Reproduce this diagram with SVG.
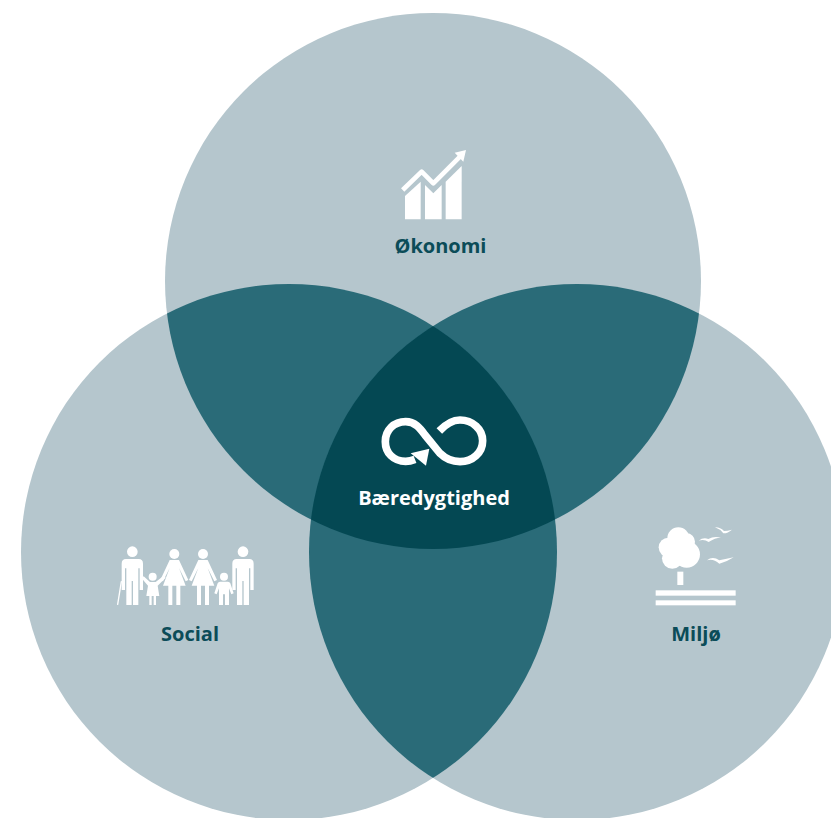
<svg xmlns="http://www.w3.org/2000/svg" width="831" height="818" viewBox="0 0 831 818">
<style>
.light{fill:#b5c6cd}.mid{fill:#2a6b78}.dark{fill:#044853}
.w{fill:#fff}.ws{fill:none;stroke:#fff;stroke-linecap:round;stroke-linejoin:round}
text{font-family:"Open Sans","Noto Sans","Liberation Sans",sans-serif;font-weight:700;font-size:20px;text-anchor:middle}
.lab{fill:#0b4c58}.labw{fill:#fff}
</style>
<defs>
<clipPath id="cT"><circle cx="433" cy="281" r="268"/></clipPath>
<clipPath id="cL"><circle cx="289" cy="552" r="268"/></clipPath>
<clipPath id="cR"><circle cx="577" cy="552" r="268"/></clipPath>
<g id="man"><circle cx="0" cy="0" r="16"/><path d="M-32,36Q-32,22-19,22H19Q32,22 32,36V115H22V50H18V160H2V88H-2V160H-18V50H-22V115H-32Z"/></g>
<g id="woman"><circle cx="0" cy="0" r="15"/><path d="M-14,18H14L42,78 34,82 14,42 34,95H18V153H6V95H-6V153H-18V95H-34L-14,42-34,82-42,78Z"/></g>
</defs>
<rect width="831" height="818" fill="#fff"/>
<g id="circles">
<circle class="light" cx="289" cy="552" r="268"/>
<circle class="light" cx="577" cy="552" r="268"/>
<circle class="light" cx="433" cy="281" r="268"/>
<g clip-path="url(#cT)"><circle class="mid" cx="289" cy="552" r="268"/><circle class="mid" cx="577" cy="552" r="268"/></g>
<g clip-path="url(#cL)"><circle class="mid" cx="577" cy="552" r="268"/></g>
<g clip-path="url(#cT)"><g clip-path="url(#cL)"><circle class="dark" cx="577" cy="552" r="268"/></g></g>
</g>
<g id="okonomi">
<g transform="translate(380 130) scale(.3333)">
<path class="ws" stroke-width="14" d="M68,180 125,125 160,160 240,80" style="stroke-linecap:butt"/>
<path class="w" d="M258,60 224,68 250,95Z"/>
<path class="w" d="M75,198 122,155V268H75Z"/>
<path class="w" d="M135,165 160,190 185,165V268H135Z"/>
<path class="w" d="M197,155 245,108V268H197Z"/>
</g>
<text class="lab" x="440.500" y="253">Økonomi</text>
</g>
<g id="social">
<g transform="translate(105 535) scale(.3333)" class="w">
<use href="#man" x="82" y="50"/>
<path class="ws" stroke-width="4" d="M49,140 38,208"/>
<circle cx="143" cy="125" r="12"/>
<path d="M135,141H152L176,122 182,128 158,152 163,183H153V210H146V183H140V210H133V183H124L129,152 110,130 116,124Z"/>
<use href="#woman" x="208" y="57"/>
<use href="#woman" x="294" y="57"/>
<circle cx="357" cy="125" r="12"/>
<path d="M345,140H369Q374,140 376,145L386,175 379,178 372,160V210H360V178H354V210H342V160L335,178 328,175 338,145Q340,140 345,140Z"/>
<use href="#man" x="414" y="50"/>
</g>
<text class="lab" x="190" y="641">Social</text>
</g>
<g id="miljo">
<g transform="translate(640 515) scale(.3333)" class="w">
<circle cx="115" cy="70" r="33"/><circle cx="85" cy="97" r="29"/><circle cx="140" cy="118" r="40"/><circle cx="97" cy="130" r="31"/><circle cx="140" cy="80" r="25"/>
<rect x="112" y="170" width="18" height="40"/>
<rect x="47" y="226" width="240" height="16"/>
<rect x="47" y="256" width="240" height="15"/>
<path d="M225,37Q240,36 252,48 262,48 276,44 262,56 250,55 240,42 225,37Z"/>
<path d="M176,77Q190,66 205,72 222,62 243,68 225,68 206,81 192,71 176,77Z"/>
<path d="M201,136Q218,122 238,136 260,132 281,127 262,140 238,146 220,130 201,136Z"/>
</g>
<text class="lab" x="696" y="641">Miljø</text>
</g>
<g id="baeredygtighed">
<g transform="translate(340 400) scale(.3333)">
<path class="ws" stroke-width="23" style="stroke-linecap:butt" d="M225,178C215,182 205,184 197,184 160,184 136,158 136,125 136,90 162,65 197,65 225,65 240,85 255,105L300,160C315,175 335,185 360,185 398,185 428,158 428,122 428,88 398,60 360,60 335,60 315,75 298,93"/>
<path class="w" d="M268,146 212,160 258,197Z"/>
</g>
<text class="labw" x="434" y="505">Bæredygtighed</text>
</g>
</svg>
